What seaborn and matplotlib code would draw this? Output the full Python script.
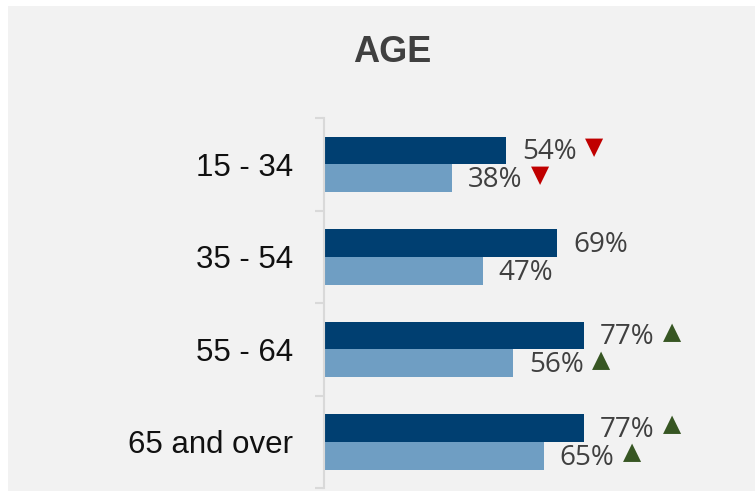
import matplotlib
matplotlib.use('Agg')
import matplotlib.pyplot as plt
from matplotlib.patches import Rectangle
import numpy as np
import pandas as pd
import seaborn as sns

ages = ['15 - 34', '35 - 54', '55 - 64', '65 and over']
current = [54, 69, 77, 77]
previous = [38, 47, 56, 65]
current_trend = ['down', None, 'up', 'up']
previous_trend = ['down', None, 'up', 'up']

dark = '#003f71'
light = '#6f9ec3'
red = '#c00000'
green = '#375623'
narrow = 'Liberation Sans'

df = pd.DataFrame({
    'age': ages * 2,
    'value': current + previous,
    'series': ['Current'] * 4 + ['Previous'] * 4,
})

sns.set_style('white')
fig = plt.figure(figsize=(7.55, 4.91), dpi=100)
fig.patch.set_facecolor('white')
# grey panel, leaving a thin white margin top and left
fig.patches.append(Rectangle((8 / 755, 0), 1, 485 / 491, transform=fig.transFigure,
                             facecolor='#f2f2f2', edgecolor='none', zorder=-10))

ax = fig.add_axes([324 / 755, 3 / 491, 337.7 / 755, 370 / 491])
ax.set_facecolor('none')
sns.barplot(data=df, x='value', y='age', hue='series', orient='h',
            palette=[dark, light], width=0.6, saturation=1, legend=False,
            linewidth=0, ax=ax)

ax.set_xlim(0, 100)
ax.set_ylim(3.5, -0.5)
ax.set_xlabel('')
ax.set_ylabel('')
ax.set_xticks([])
for s in ['top', 'right', 'bottom']:
    ax.spines[s].set_visible(False)
ax.spines['left'].set_color('#d9d9d9')
ax.spines['left'].set_linewidth(1.5)
ax.set_yticks(np.arange(-0.5, 4, 1), minor=True)
ax.tick_params(axis='y', which='minor', length=6.5, width=1.5, color='#d9d9d9', left=True)
ax.tick_params(axis='y', which='major', length=0, pad=22)
for lab in ax.get_yticklabels():
    lab.set_fontfamily(narrow)
    lab.set_fontsize(22.5)
    lab.set_color('#111111')

fig.text(392 / 755, 1 - 53 / 491, 'AGE', ha='center', va='center',
         fontsize=26, fontweight='bold', family=narrow, color='#404040')

for cont, vals, trends in zip(ax.containers, [current, previous], [current_trend, previous_trend]):
    for bar, v, tr in zip(cont, vals, trends):
        y = bar.get_y() + bar.get_height() / 2
        t = ax.annotate(f'{v}%', xy=(bar.get_width(), y), xytext=(11.5, -1.5),
                        textcoords='offset points', ha='left', va='center',
                        fontsize=20, family='Open Sans', color='#404040')
        if tr:
            ax.annotate('▲' if tr == 'up' else '▼', xy=(1, 0.5), xycoords=t,
                        xytext=(6, 4), textcoords='offset points', ha='left', va='center',
                        fontsize=17, family='DejaVu Sans', color=green if tr == 'up' else red)

fig.savefig('out.png', dpi=100)
